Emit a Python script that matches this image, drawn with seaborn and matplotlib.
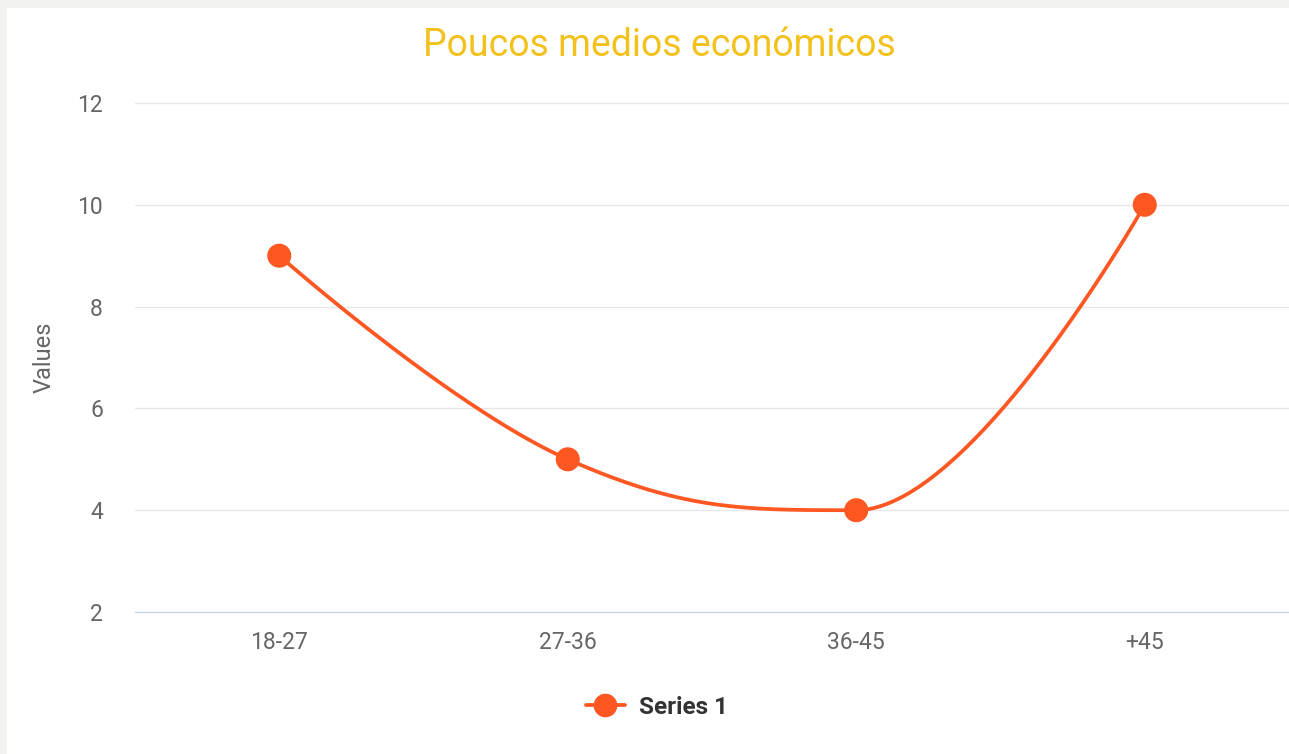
import numpy as np
import pandas as pd
import matplotlib
matplotlib.use("Agg")
import matplotlib.pyplot as plt
from matplotlib.lines import Line2D
from matplotlib.patches import Rectangle
import seaborn as sns

categories = ["18-27", "27-36", "36-45", "+45"]
values = [9, 5, 4, 10]
series_name = "Series 1"
title = "Poucos medios económicos"
y_label = "Values"
y_ticks = [2, 4, 6, 8, 10, 12]

sns.set_theme(style="white")
plt.rcParams["font.family"] = ["Roboto", "DejaVu Sans"]

LINE_COLOR = "#ff5722"


def spline_controls(xs, ys, smoothing=1.5):
    """Highcharts-style spline control points."""
    n = len(xs)
    denom = smoothing + 1
    left = [(xs[i], ys[i]) for i in range(n)]
    right = [(xs[i], ys[i]) for i in range(n)]
    for i in range(1, n - 1):
        px, py = xs[i], ys[i]
        lx, ly = xs[i - 1], ys[i - 1]
        nx, ny = xs[i + 1], ys[i + 1]
        lcx = (smoothing * px + lx) / denom
        lcy = (smoothing * py + ly) / denom
        rcx = (smoothing * px + nx) / denom
        rcy = (smoothing * py + ny) / denom
        corr = 0.0
        if rcx != lcx:
            corr = (rcy - lcy) * (rcx - px) / (rcx - lcx) + py - rcy
        lcy += corr
        rcy += corr
        if lcy > ly and lcy > py:
            lcy = max(ly, py); rcy = 2 * py - lcy
        elif lcy < ly and lcy < py:
            lcy = min(ly, py); rcy = 2 * py - lcy
        if rcy > ny and rcy > py:
            rcy = max(ny, py); lcy = 2 * py - rcy
        elif rcy < ny and rcy < py:
            rcy = min(ny, py); lcy = 2 * py - rcy
        left[i] = (lcx, lcy)
        right[i] = (rcx, rcy)
    sx, sy = [], []
    t = np.linspace(0, 1, 80)
    for i in range(1, n):
        p0 = np.array([xs[i - 1], ys[i - 1]])
        p1 = np.array(right[i - 1])
        p2 = np.array(left[i])
        p3 = np.array([xs[i], ys[i]])
        b = ((1 - t) ** 3)[:, None] * p0 + (3 * (1 - t) ** 2 * t)[:, None] * p1 \
            + (3 * (1 - t) * t ** 2)[:, None] * p2 + (t ** 3)[:, None] * p3
        sx.extend(b[:, 0]); sy.extend(b[:, 1])
    return np.array(sx), np.array(sy)


xpos = np.arange(len(categories), dtype=float)
cx, cy = spline_controls(list(xpos), list(map(float, values)))
curve = pd.DataFrame({"x": cx, "y": cy})
pts = pd.DataFrame({"x": xpos, "y": values})

W, H = 1289, 754
fig = plt.figure(figsize=(W / 100, H / 100), dpi=100)
fig.patch.set_facecolor("#f2f2f0")
fig.patches.append(Rectangle((7 / W, 0), 1 - 7 / W, 1 - 8 / H, transform=fig.transFigure,
                             facecolor="white", edgecolor="none", zorder=-10))

ax = fig.add_axes([135 / W, (H - 612) / H, (W - 135) / W, 509 / H])
ax.set_facecolor("none")

sns.lineplot(data=curve, x="x", y="y", sort=False, estimator=None, color=LINE_COLOR,
             linewidth=2.7, ax=ax, zorder=3)
sns.scatterplot(data=pts, x="x", y="y", s=300, color=LINE_COLOR, edgecolor="none",
                ax=ax, zorder=4)

ax.set_xlim(-0.5, len(categories) - 0.5)
ax.set_ylim(min(y_ticks), max(y_ticks))
ax.set_xticks(xpos)
ax.set_xticklabels(categories)
ax.set_yticks(y_ticks)
ax.set_xlabel("")
ax.set_ylabel(y_label, fontsize=17, color="#666666")
ax.yaxis.set_label_coords(-(135 - 56) / (W - 135), 0.5)
ax.tick_params(axis="y", length=0, pad=23, labelsize=16.5, labelcolor="#666666")
ax.tick_params(axis="x", length=0, pad=14, labelsize=16.5, labelcolor="#666666")

ax.yaxis.grid(True, color="#e6e6e6", linewidth=0.9)
ax.xaxis.grid(False)
for s in ["top", "right", "left"]:
    ax.spines[s].set_visible(False)
ax.spines["bottom"].set_color("#ccd6eb")
ax.spines["bottom"].set_linewidth(1.0)
ax.spines["bottom"].set_zorder(2)

fig.text(659.5 / W, 1 - 45 / H, title, ha="center", va="center", fontsize=27,
         color="#f3c11b")

handle = Line2D([0], [0], color=LINE_COLOR, linewidth=2.7, marker="o", markersize=17,
                markeredgewidth=0)
leg = fig.legend([handle], [series_name], loc="center", bbox_to_anchor=(657 / W, 1 - 707 / H),
                 frameon=False, handlelength=1.6, handletextpad=0.6,
                 prop={"weight": "bold", "size": 17.5})
for t in leg.get_texts():
    t.set_color("#333333")

fig.savefig("out.png", dpi=100, facecolor=fig.get_facecolor())
